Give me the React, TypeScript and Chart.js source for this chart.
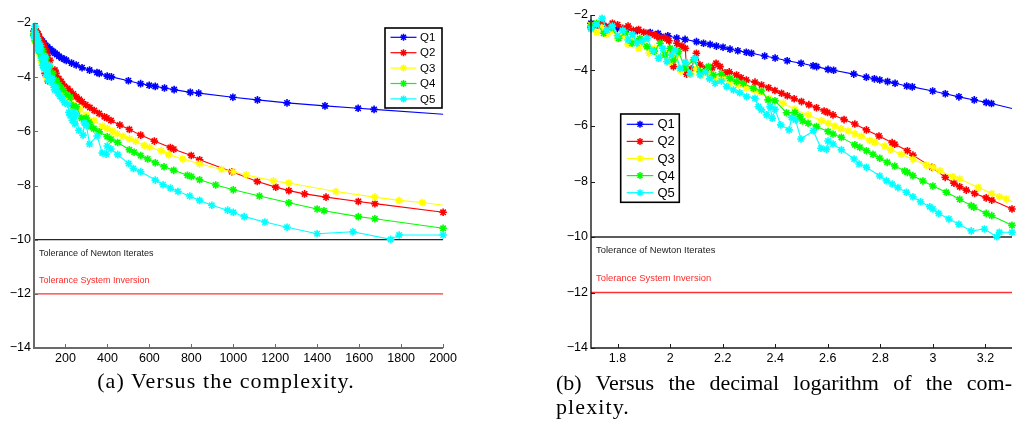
import React, { useEffect, useRef } from "react";
import { Chart, registerables } from "chart.js";

Chart.register(...registerables);

// ---------------- data ----------------
const seriesNames = ["Q1", "Q2", "Q3", "Q4", "Q5"];
const seriesColors = ["#0000ff", "#ff0000", "#ffff00", "#00ff00", "#00ffff"];
const seriesEndMarker = [false, true, false, true, true];

const q1Complexity = [50, 53, 57, 63, 68, 75, 84, 90, 98, 106, 114, 126, 134, 142, 150, 159, 169, 181, 195, 204, 229, 251, 279, 315, 350, 361, 399, 419, 500, 558, 599, 628, 672, 718, 795, 835, 998, 1115, 1256, 1437, 1595, 1671, 2000];
const q1Error = [-2.3, -2.36, -2.42, -2.48, -2.52, -2.57, -2.63, -2.67, -2.75, -2.83, -2.88, -2.96, -3.02, -3.06, -3.12, -3.16, -3.23, -3.29, -3.34, -3.38, -3.48, -3.55, -3.65, -3.74, -3.83, -3.86, -3.96, -3.99, -4.13, -4.24, -4.3, -4.34, -4.4, -4.46, -4.56, -4.59, -4.74, -4.84, -4.95, -5.06, -5.15, -5.19, -5.37];

const q2Complexity = [50, 52.5, 55, 57.5, 60.3, 63.1, 66.1, 69.2, 72.4, 75.9, 79.4, 83.2, 87.1, 89.1, 91.2, 94.4, 97.3, 98.9, 103, 106.2, 110.9, 114.3, 115.6, 120.2, 125.9, 130, 137.7, 144.5, 149.6, 154.9, 161.8, 167.9, 179, 186.2, 195, 210.4, 222.8, 237.1, 250.6, 265.5, 279.3, 296.5, 316.2, 337.3, 360.6, 385.5, 397.2, 416.9, 459.2, 504.7, 558.5, 623.7, 699.8, 716.1, 799.8, 839.5, 993.1, 1114.3, 1202.3, 1264.7, 1339.8, 1442.1, 1595.9, 1674.9, 2000];
const q2Error = [-2.45, -2.38, -2.3, -2.45, -2.3, -2.35, -2.48, -2.4, -2.55, -2.52, -2.62, -2.66, -2.72, -2.76, -2.84, -2.8, -2.86, -2.93, -3.86, -3.02, -3.12, -3.2, -4.13, -3.95, -3.38, -3.8, -3.92, -3.9, -3.74, -3.86, -4.08, -4.05, -4.16, -4.26, -4.34, -4.42, -4.52, -4.62, -4.72, -4.82, -4.91, -5.02, -5.12, -5.23, -5.34, -5.46, -5.51, -5.6, -5.77, -5.93, -6.14, -6.36, -6.6, -6.66, -6.89, -7.05, -7.49, -7.85, -8.06, -8.19, -8.31, -8.43, -8.59, -8.67, -8.99];

const q3Complexity = [50, 52.5, 55, 57.5, 60.3, 63.1, 66.1, 69.2, 72.4, 75.9, 79.4, 83.2, 87.1, 91.2, 95.5, 100, 104.7, 109.6, 114.8, 120.2, 125.9, 131.8, 141.3, 150.3, 158.5, 169, 182, 195, 208.9, 219.8, 238.2, 269.2, 298.5, 335, 376.7, 399, 423.6, 446.7, 475.3, 504.7, 534.6, 575.4, 601.2, 656.1, 691.8, 758.6, 839.5, 944.1, 1000, 1061.7, 1191.2, 1264.7, 1489, 1674.9, 1790.6, 1901, 2000];
const q3Error = [-2.36, -2.62, -2.45, -2.7, -2.55, -2.85, -2.72, -3.05, -2.9, -3.2, -3.05, -3.38, -3.2, -3.52, -3.35, -3.7, -3.5, -4.02, -3.75, -4.12, -3.95, -4.18, -4.12, -4.34, -4.3, -4.46, -4.52, -4.62, -4.7, -4.78, -5.0, -5.18, -5.4, -5.6, -5.81, -5.9, -6.0, -6.1, -6.18, -6.28, -6.37, -6.52, -6.59, -6.72, -6.86, -7.02, -7.2, -7.41, -7.49, -7.61, -7.83, -7.91, -8.22, -8.43, -8.55, -8.63, -8.73];

const q4Complexity = [50, 52.5, 55.8, 59.6, 63.7, 67.6, 71.6, 76.7, 81.7, 87.1, 91.6, 95.7, 100, 103, 107.6, 114, 122.7, 130, 140, 146.2, 156.7, 169, 179, 189.7, 207.5, 222.8, 236, 250.6, 277.3, 298.5, 311.9, 319.2, 335, 360.6, 399, 416.9, 448.7, 504.7, 527.2, 558.5, 591.6, 628.1, 669.9, 716.1, 781.6, 799.8, 839.5, 916.2, 1000, 1124.6, 1264.7, 1399.6, 1432.2, 1595.9, 1674.9, 2000];
const q4Error = [-2.4, -2.3, -2.66, -2.45, -2.84, -2.62, -3.02, -2.85, -3.14, -3.3, -3.02, -3.44, -3.2, -3.62, -3.32, -3.92, -3.62, -4.04, -3.86, -4.16, -4.12, -4.28, -4.4, -4.46, -4.64, -4.74, -5.06, -5.09, -5.52, -5.51, -5.66, -5.82, -5.9, -6.02, -6.2, -6.29, -6.41, -6.68, -6.77, -6.89, -7.02, -7.16, -7.31, -7.44, -7.62, -7.67, -7.79, -7.98, -8.16, -8.39, -8.64, -8.87, -8.93, -9.15, -9.23, -9.58];

const q5Complexity = [50, 52.5, 55.1, 57.5, 60.3, 63.1, 66.1, 69.2, 71.9, 74.8, 78.2, 81.7, 86.1, 90.4, 93.8, 97.3, 101.2, 104.5, 109.1, 114.3, 118.9, 124.5, 130, 136.5, 141.3, 148.3, 156.7, 164.1, 174.2, 184.1, 195.4, 210.4, 216.8, 222.8, 232.8, 239.9, 244.9, 250.6, 263.6, 283.8, 289.7, 299.9, 314.8, 350.8, 375, 393.6, 399, 416.9, 448.7, 501.2, 523.6, 558.5, 628.1, 665.3, 699.8, 736.2, 792.5, 839.5, 897.5, 972.8, 1000, 1051.9, 1150.8, 1256, 1399.6, 1570.4, 1749.9, 1790.6, 2000];
const q5Error = [-2.5, -2.35, -2.12, -2.55, -2.4, -2.75, -2.55, -2.9, -2.7, -3.02, -2.95, -2.84, -3.3, -3.56, -3.2, -3.68, -3.45, -3.26, -3.92, -3.7, -4.12, -3.56, -4.16, -4.05, -4.3, -4.46, -4.38, -4.58, -4.7, -4.8, -4.94, -5.0, -5.3, -5.42, -5.6, -5.3, -5.72, -5.4, -5.96, -6.14, -5.69, -5.78, -6.47, -6.17, -6.8, -6.84, -6.54, -6.65, -6.86, -7.19, -7.37, -7.49, -7.8, -7.97, -8.09, -8.22, -8.39, -8.55, -8.73, -8.91, -8.99, -9.15, -9.35, -9.54, -9.78, -9.71, -9.99, -9.83, -9.83];

const complexityMin = 50;
const complexityMax = 2000;
const errorMin = -14;
const errorMax = -2;
const yTickValues = [-2, -4, -6, -8, -10, -12, -14];
const xTickComplexity = [200, 400, 600, 800, 1000, 1200, 1400, 1600, 1800, 2000];
const xTickLog10 = [1.8, 2, 2.2, 2.4, 2.6, 2.8, 3, 3.2];

const newtonTolerance = -10;
const inversionTolerance = -12;
const newtonLabel = "Tolerance of Newton Iterates";
const inversionLabel = "Tolerance System Inversion";
const newtonLabelLevel = -10.5;
const inversionLabelLevel = -11.5;

const captionA = "(a) Versus the complexity.";
const captionB1 = "(b) Versus the decimal logarithm of the com-";
const captionB2 = "plexity.";

const allComplexity = [q1Complexity, q2Complexity, q3Complexity, q4Complexity, q5Complexity];
const allError = [q1Error, q2Error, q3Error, q4Error, q5Error];

// ---------------- helpers ----------------
const SANS = "'Liberation Sans', Arial, Helvetica, sans-serif";

function drawStar(ctx: CanvasRenderingContext2D, x: number, y: number, r: number) {
  const d = r * Math.SQRT1_2;
  ctx.beginPath();
  ctx.moveTo(x - r, y); ctx.lineTo(x + r, y);
  ctx.moveTo(x, y - r); ctx.lineTo(x, y + r);
  ctx.moveTo(x - d, y - d); ctx.lineTo(x + d, y + d);
  ctx.moveTo(x - d, y + d); ctx.lineTo(x + d, y - d);
  ctx.stroke();
}

type DecorCfg = {
  axisColor: string;
  axisWidth: number;
  tickLen: number;
  labelFont: string;
  labelOffset: number;
  legend: { x: number; y: number; w: number; h: number; row0: number; rowGap: number; lx0: number; lx1: number; tx: number; font: string };
};

function makeDecor(cfg: DecorCfg) {
  return {
    id: "decor",
    beforeDatasetsDraw(chart: any) {
      const { ctx, chartArea: a, scales } = chart;
      const ys = scales.y;
      ctx.save();
      const tols = [
        { v: newtonTolerance, lv: newtonLabelLevel, label: newtonLabel, color: "#262626", text: "#222222" },
        { v: inversionTolerance, lv: inversionLabelLevel, label: inversionLabel, color: "#ff3333", text: "#ff2a2a" },
      ];
      for (const t of tols) {
        const py = ys.getPixelForValue(t.v);
        ctx.strokeStyle = t.color;
        ctx.lineWidth = 1.4;
        ctx.beginPath();
        ctx.moveTo(a.left, py);
        ctx.lineTo(a.right, py);
        ctx.stroke();
        ctx.fillStyle = t.text;
        ctx.font = cfg.labelFont;
        ctx.textAlign = "left";
        ctx.textBaseline = "middle";
        ctx.fillText(t.label, a.left + cfg.labelOffset, ys.getPixelForValue(t.lv));
      }
      ctx.restore();
    },
    afterDatasetsDraw(chart: any) {
      const { ctx, chartArea: a, scales } = chart;
      ctx.save();
      ctx.strokeStyle = cfg.axisColor;
      ctx.lineWidth = cfg.axisWidth;
      ctx.beginPath();
      ctx.moveTo(a.left, a.top);
      ctx.lineTo(a.left, a.bottom);
      ctx.lineTo(a.right, a.bottom);
      ctx.stroke();
      ctx.lineWidth = 1;
      ctx.beginPath();
      for (const t of scales.x.ticks) {
        const px = Math.round(scales.x.getPixelForValue(t.value)) + 0.5;
        ctx.moveTo(px, a.bottom);
        ctx.lineTo(px, a.bottom - cfg.tickLen);
      }
      for (const t of scales.y.ticks) {
        const py = Math.round(scales.y.getPixelForValue(t.value)) + 0.5;
        ctx.moveTo(a.left, py);
        ctx.lineTo(a.left + cfg.tickLen, py);
      }
      ctx.stroke();
      ctx.restore();
    },
    afterDraw(chart: any) {
      const { ctx } = chart;
      const L = cfg.legend;
      ctx.save();
      ctx.fillStyle = "#ffffff";
      ctx.fillRect(L.x, L.y, L.w, L.h);
      ctx.strokeStyle = "#000000";
      ctx.lineWidth = 1.6;
      ctx.strokeRect(L.x, L.y, L.w, L.h);
      seriesNames.forEach((name, i) => {
        const y = L.row0 + i * L.rowGap;
        ctx.strokeStyle = seriesColors[i];
        ctx.lineWidth = 1.2;
        ctx.beginPath();
        ctx.moveTo(L.lx0, y);
        ctx.lineTo(L.lx1, y);
        ctx.stroke();
        ctx.lineWidth = 1.5;
        drawStar(ctx, (L.lx0 + L.lx1) / 2, y, 3.5);
        ctx.fillStyle = "#000000";
        ctx.font = L.font;
        ctx.textAlign = "left";
        ctx.textBaseline = "middle";
        ctx.fillText(name, L.tx, y + 0.5);
      });
      ctx.restore();
    },
  };
}

function buildDatasets() {
  return seriesNames.map((name, i) => {
    const xs = allComplexity[i];
    const ys = allError[i];
    const n = xs.length;
    return {
      label: name,
      data: xs.map((x, k) => ({ x, y: ys[k] })),
      borderColor: seriesColors[i],
      backgroundColor: seriesColors[i],
      borderWidth: 1.1,
      pointStyle: "star",
      pointRadius: (c: any) => (!seriesEndMarker[i] && c.dataIndex === n - 1 ? 0 : 3.8),
      pointBorderWidth: 1.6,
      pointBorderColor: seriesColors[i],
      pointBackgroundColor: seriesColors[i],
      pointHoverRadius: 3.8,
      tension: 0,
      clip: false as any,
      order: seriesNames.length - 1 - i,
    };
  });
}

function minusLabel(v: number) {
  return String(v).replace("-", "\u2212");
}

function ChartA() {
  const ref = useRef<HTMLCanvasElement | null>(null);
  useEffect(() => {
    if (!ref.current) return;
    const decor = makeDecor({
      axisColor: "#6a6a6a",
      axisWidth: 2,
      tickLen: 4,
      labelFont: `9px ${SANS}`,
      labelOffset: 5,
      legend: { x: 385, y: 28, w: 57, h: 80, row0: 37.3, rowGap: 15.4, lx0: 390.5, lx1: 416.5, tx: 420, font: `11.5px ${SANS}` },
    });
    const chart = new Chart(ref.current, {
      type: "line",
      data: { datasets: buildDatasets() as any },
      options: {
        animation: false,
        responsive: false,
        events: [],
        layout: { padding: { top: 23, right: 15, left: 0, bottom: 0 } },
        plugins: { legend: { display: false }, tooltip: { enabled: false } },
        scales: {
          x: {
            type: "linear",
            min: complexityMin,
            max: complexityMax,
            grid: { display: false, drawTicks: false },
            border: { display: false },
            afterBuildTicks: (s: any) => { s.ticks = xTickComplexity.map((v) => ({ value: v })); },
            afterFit: (s: any) => { s.height = 24; },
            ticks: { color: "#000", padding: 3, maxRotation: 0, autoSkip: false, font: { family: SANS, size: 12.5 }, callback: (v: any) => String(v) },
          },
          y: {
            type: "linear",
            min: errorMin,
            max: errorMax,
            grid: { display: false, drawTicks: false },
            border: { display: false },
            afterBuildTicks: (s: any) => { s.ticks = yTickValues.map((v) => ({ value: v })); },
            afterFit: (s: any) => { s.width = 34; },
            ticks: { color: "#000", padding: 3, autoSkip: false, font: { family: SANS, size: 12.5 }, callback: (v: any) => minusLabel(Number(v)) },
          },
        },
      },
      plugins: [decor as any],
    });
    return () => chart.destroy();
  }, []);
  return <canvas ref={ref} width={460} height={372} style={{ position: "absolute", left: 0, top: 0, width: 460, height: 372 }} />;
}

function ChartB() {
  const ref = useRef<HTMLCanvasElement | null>(null);
  useEffect(() => {
    if (!ref.current) return;
    const decor = makeDecor({
      axisColor: "#1a1a1a",
      axisWidth: 1.4,
      tickLen: 4,
      labelFont: `9.4px ${SANS}`,
      labelOffset: 5,
      legend: { x: 64.7, y: 114, w: 58.6, h: 88.3, row0: 124.3, rowGap: 17.1, lx0: 70.7, lx1: 97.3, tx: 101.5, font: `13px ${SANS}` },
    });
    const chart = new Chart(ref.current, {
      type: "line",
      data: { datasets: buildDatasets() as any },
      options: {
        animation: false,
        responsive: false,
        events: [],
        layout: { padding: { top: 15, right: 8, left: 0, bottom: 0 } },
        plugins: { legend: { display: false }, tooltip: { enabled: false } },
        scales: {
          x: {
            type: "logarithmic",
            min: complexityMin,
            max: complexityMax,
            grid: { display: false, drawTicks: false },
            border: { display: false },
            afterBuildTicks: (s: any) => { s.ticks = xTickLog10.map((v) => ({ value: Math.pow(10, v) })); },
            afterFit: (s: any) => { s.height = 24; },
            ticks: {
              color: "#000",
              padding: 3,
              maxRotation: 0,
              autoSkip: false,
              font: { family: SANS, size: 12.5 },
              callback: (v: any) => String(parseFloat(Math.log10(Number(v)).toFixed(1))),
            },
          },
          y: {
            type: "linear",
            min: errorMin,
            max: errorMax,
            grid: { display: false, drawTicks: false },
            border: { display: false },
            afterBuildTicks: (s: any) => { s.ticks = yTickValues.map((v) => ({ value: v })); },
            afterFit: (s: any) => { s.width = 35; },
            ticks: { color: "#000", padding: 3, autoSkip: false, font: { family: SANS, size: 12.5 }, callback: (v: any) => minusLabel(Number(v)) },
          },
        },
      },
      plugins: [decor as any],
    });
    return () => chart.destroy();
  }, []);
  return <canvas ref={ref} width={464} height={372} style={{ position: "absolute", left: 556, top: 0, width: 464, height: 372 }} />;
}

export default function App() {
  const serif = "'Liberation Serif', 'Times New Roman', serif";
  return (
    <div style={{ position: "absolute", left: 0, top: 0, width: 1020, height: 425, overflow: "hidden", background: "#fff" }}>
      <ChartA />
      <ChartB />
      <div style={{ position: "absolute", left: 0, top: 369, width: 452, textAlign: "center", fontFamily: serif, fontSize: 22, lineHeight: "24px", letterSpacing: "1.1px", color: "#000", whiteSpace: "nowrap" }}>
        {captionA}
      </div>
      <div style={{ position: "absolute", left: 556, top: 371, width: 456, fontFamily: serif, fontSize: 22, lineHeight: "24px", color: "#000" }}>
        <div style={{ textAlign: "justify", textAlignLast: "justify", whiteSpace: "nowrap" } as any}>{captionB1}</div>
        <div style={{ textAlign: "left", letterSpacing: "1.1px" }}>{captionB2}</div>
      </div>
    </div>
  );
}
